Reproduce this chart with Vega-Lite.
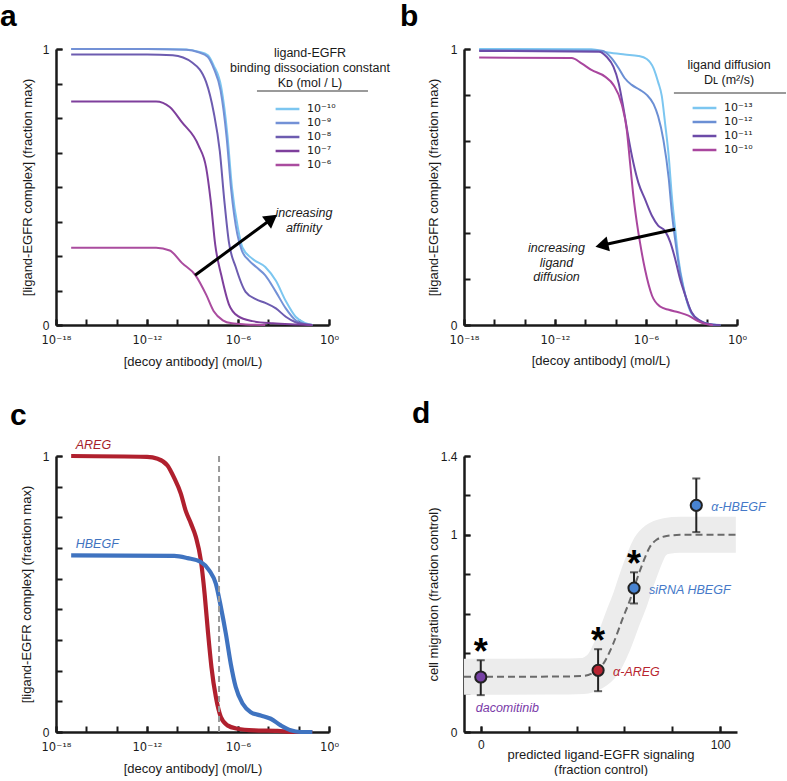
{
  "$schema": "https://vega.github.io/schema/vega-lite/v6.json",
  "padding": {"left": 0, "top": 2, "right": 0, "bottom": 0},
  "background": "white",
  "config": {
    "font": "Liberation Sans",
    "view": {"stroke": null},
    "axis": {"domainColor": "#1a1a1a", "domainWidth": 2.5, "tickColor": "#1a1a1a", "tickWidth": 2, "tickSize": -6, "labelPadding": 13, "labelFontSize": 12, "labelColor": "#1a1a1a", "titleFontSize": 13, "titleFontWeight": "normal", "titleColor": "#1a1a1a", "grid": false, "labelFlush": false, "labelOverlap": false, "labelBound": false},
    "title": {"fontSize": 30, "fontWeight": "bold", "anchor": "start", "frame": "group", "color": "#000", "font": "Liberation Sans"},
    "legend": {"padding": 0, "titleFontSize": 12.5, "titleFontWeight": "normal", "titleColor": "#1a1a1a", "titleAlign": "center", "titleAnchor": "middle", "titleLineHeight": 15, "titlePadding": 13, "titleLimit": 300, "symbolType": "M-1.7,0L1.7,0", "symbolSize": 196, "symbolStrokeWidth": 2.5, "labelOffset": 11, "labelFont": "DejaVu Sans", "labelFontSize": 11, "labelColor": "#1a1a1a", "labelExpr": "datum.label + '     '", "rowPadding": 0}
  },
  "columns": 2,
  "bounds": "flush",
  "spacing": {"row": 131, "column": 135},
  "resolve": {"scale": {"color": "independent", "fill": "independent", "x": "independent", "y": "independent"}, "legend": {"color": "independent", "fill": "independent"}},
  "datasets": {
    "curvesA": [
      {"kd": "10⁻¹⁰", "log_conc": -17, "complex": 1.0}, {"kd": "10⁻¹⁰", "log_conc": -12, "complex": 1.0}, {"kd": "10⁻¹⁰", "log_conc": -9.4, "complex": 0.998}, {"kd": "10⁻¹⁰", "log_conc": -8.6, "complex": 0.99}, {"kd": "10⁻¹⁰", "log_conc": -8, "complex": 0.978}, {"kd": "10⁻¹⁰", "log_conc": -7.6, "complex": 0.94}, {"kd": "10⁻¹⁰", "log_conc": -7.1, "complex": 0.86}, {"kd": "10⁻¹⁰", "log_conc": -6.7, "complex": 0.69}, {"kd": "10⁻¹⁰", "log_conc": -6.4, "complex": 0.5}, {"kd": "10⁻¹⁰", "log_conc": -6.0, "complex": 0.35}, {"kd": "10⁻¹⁰", "log_conc": -5.7, "complex": 0.28}, {"kd": "10⁻¹⁰", "log_conc": -5.05, "complex": 0.24}, {"kd": "10⁻¹⁰", "log_conc": -4.2, "complex": 0.21}, {"kd": "10⁻¹⁰", "log_conc": -3.5, "complex": 0.16}, {"kd": "10⁻¹⁰", "log_conc": -2.85, "complex": 0.087}, {"kd": "10⁻¹⁰", "log_conc": -2.2, "complex": 0.03}, {"kd": "10⁻¹⁰", "log_conc": -1.6, "complex": 0.008}, {"kd": "10⁻¹⁰", "log_conc": -1.1, "complex": 0.0},
      {"kd": "10⁻⁹", "log_conc": -17, "complex": 1.0}, {"kd": "10⁻⁹", "log_conc": -12, "complex": 1.0}, {"kd": "10⁻⁹", "log_conc": -9.4, "complex": 0.997}, {"kd": "10⁻⁹", "log_conc": -8.6, "complex": 0.988}, {"kd": "10⁻⁹", "log_conc": -8, "complex": 0.972}, {"kd": "10⁻⁹", "log_conc": -7.6, "complex": 0.93}, {"kd": "10⁻⁹", "log_conc": -7.15, "complex": 0.85}, {"kd": "10⁻⁹", "log_conc": -6.75, "complex": 0.68}, {"kd": "10⁻⁹", "log_conc": -6.45, "complex": 0.49}, {"kd": "10⁻⁹", "log_conc": -6.05, "complex": 0.33}, {"kd": "10⁻⁹", "log_conc": -5.75, "complex": 0.27}, {"kd": "10⁻⁹", "log_conc": -5.3, "complex": 0.235}, {"kd": "10⁻⁹", "log_conc": -4.8, "complex": 0.21}, {"kd": "10⁻⁹", "log_conc": -4.2, "complex": 0.18}, {"kd": "10⁻⁹", "log_conc": -3.5, "complex": 0.12}, {"kd": "10⁻⁹", "log_conc": -2.85, "complex": 0.06}, {"kd": "10⁻⁹", "log_conc": -2.2, "complex": 0.017}, {"kd": "10⁻⁹", "log_conc": -1.6, "complex": 0.004}, {"kd": "10⁻⁹", "log_conc": -1.1, "complex": 0.0},
      {"kd": "10⁻⁸", "log_conc": -17, "complex": 0.98}, {"kd": "10⁻⁸", "log_conc": -12, "complex": 0.98}, {"kd": "10⁻⁸", "log_conc": -10.3, "complex": 0.977}, {"kd": "10⁻⁸", "log_conc": -9, "complex": 0.95}, {"kd": "10⁻⁸", "log_conc": -8.1, "complex": 0.88}, {"kd": "10⁻⁸", "log_conc": -7.6, "complex": 0.77}, {"kd": "10⁻⁸", "log_conc": -7.2, "complex": 0.63}, {"kd": "10⁻⁸", "log_conc": -6.9, "complex": 0.45}, {"kd": "10⁻⁸", "log_conc": -6.6, "complex": 0.3}, {"kd": "10⁻⁸", "log_conc": -6.15, "complex": 0.21}, {"kd": "10⁻⁸", "log_conc": -5.5, "complex": 0.12}, {"kd": "10⁻⁸", "log_conc": -4.8, "complex": 0.093}, {"kd": "10⁻⁸", "log_conc": -4.2, "complex": 0.08}, {"kd": "10⁻⁸", "log_conc": -3.5, "complex": 0.06}, {"kd": "10⁻⁸", "log_conc": -2.85, "complex": 0.03}, {"kd": "10⁻⁸", "log_conc": -2.2, "complex": 0.01}, {"kd": "10⁻⁸", "log_conc": -1.5, "complex": 0.002}, {"kd": "10⁻⁸", "log_conc": -1.1, "complex": 0.0},
      {"kd": "10⁻⁷", "log_conc": -17, "complex": 0.81}, {"kd": "10⁻⁷", "log_conc": -11.4, "complex": 0.81}, {"kd": "10⁻⁷", "log_conc": -10.5, "complex": 0.79}, {"kd": "10⁻⁷", "log_conc": -9.7, "complex": 0.735}, {"kd": "10⁻⁷", "log_conc": -8.6, "complex": 0.65}, {"kd": "10⁻⁷", "log_conc": -8.1, "complex": 0.57}, {"kd": "10⁻⁷", "log_conc": -7.8, "complex": 0.45}, {"kd": "10⁻⁷", "log_conc": -7.5, "complex": 0.29}, {"kd": "10⁻⁷", "log_conc": -7.1, "complex": 0.18}, {"kd": "10⁻⁷", "log_conc": -6.6, "complex": 0.075}, {"kd": "10⁻⁷", "log_conc": -6.0, "complex": 0.032}, {"kd": "10⁻⁷", "log_conc": -5.05, "complex": 0.014}, {"kd": "10⁻⁷", "log_conc": -3.7, "complex": 0.006}, {"kd": "10⁻⁷", "log_conc": -2.0, "complex": 0.002}, {"kd": "10⁻⁷", "log_conc": -1.1, "complex": 0.0},
      {"kd": "10⁻⁶", "log_conc": -17, "complex": 0.28}, {"kd": "10⁻⁶", "log_conc": -11.4, "complex": 0.28}, {"kd": "10⁻⁶", "log_conc": -10.5, "complex": 0.27}, {"kd": "10⁻⁶", "log_conc": -9.7, "complex": 0.225}, {"kd": "10⁻⁶", "log_conc": -8.8, "complex": 0.18}, {"kd": "10⁻⁶", "log_conc": -8.1, "complex": 0.11}, {"kd": "10⁻⁶", "log_conc": -7.6, "complex": 0.05}, {"kd": "10⁻⁶", "log_conc": -7.0, "complex": 0.017}, {"kd": "10⁻⁶", "log_conc": -6.4, "complex": 0.006}, {"kd": "10⁻⁶", "log_conc": -5.5, "complex": 0.002}, {"kd": "10⁻⁶", "log_conc": -4.2, "complex": 0.0}
    ],
    "curvesB": [
      {"dl": "10⁻¹³", "log_conc": -17, "complex": 1.0}, {"dl": "10⁻¹³", "log_conc": -9.6, "complex": 0.999}, {"dl": "10⁻¹³", "log_conc": -8.5, "complex": 0.987}, {"dl": "10⁻¹³", "log_conc": -7.4, "complex": 0.98}, {"dl": "10⁻¹³", "log_conc": -6.5, "complex": 0.975}, {"dl": "10⁻¹³", "log_conc": -5.95, "complex": 0.964}, {"dl": "10⁻¹³", "log_conc": -5.5, "complex": 0.93}, {"dl": "10⁻¹³", "log_conc": -5.2, "complex": 0.88}, {"dl": "10⁻¹³", "log_conc": -4.96, "complex": 0.83}, {"dl": "10⁻¹³", "log_conc": -4.74, "complex": 0.73}, {"dl": "10⁻¹³", "log_conc": -4.5, "complex": 0.61}, {"dl": "10⁻¹³", "log_conc": -4.3, "complex": 0.47}, {"dl": "10⁻¹³", "log_conc": -4.08, "complex": 0.35}, {"dl": "10⁻¹³", "log_conc": -3.86, "complex": 0.24}, {"dl": "10⁻¹³", "log_conc": -3.5, "complex": 0.13}, {"dl": "10⁻¹³", "log_conc": -3.1, "complex": 0.052}, {"dl": "10⁻¹³", "log_conc": -2.53, "complex": 0.016}, {"dl": "10⁻¹³", "log_conc": -1.9, "complex": 0.004}, {"dl": "10⁻¹³", "log_conc": -1.1, "complex": 0.0},
      {"dl": "10⁻¹²", "log_conc": -17, "complex": 0.996}, {"dl": "10⁻¹²", "log_conc": -8.9, "complex": 0.994}, {"dl": "10⁻¹²", "log_conc": -8.26, "complex": 0.966}, {"dl": "10⁻¹²", "log_conc": -7.8, "complex": 0.93}, {"dl": "10⁻¹²", "log_conc": -7.4, "complex": 0.894}, {"dl": "10⁻¹²", "log_conc": -6.94, "complex": 0.87}, {"dl": "10⁻¹²", "log_conc": -6.4, "complex": 0.852}, {"dl": "10⁻¹²", "log_conc": -5.95, "complex": 0.834}, {"dl": "10⁻¹²", "log_conc": -5.5, "complex": 0.8}, {"dl": "10⁻¹²", "log_conc": -5.2, "complex": 0.756}, {"dl": "10⁻¹²", "log_conc": -4.85, "complex": 0.67}, {"dl": "10⁻¹²", "log_conc": -4.5, "complex": 0.53}, {"dl": "10⁻¹²", "log_conc": -4.3, "complex": 0.41}, {"dl": "10⁻¹²", "log_conc": -4.08, "complex": 0.31}, {"dl": "10⁻¹²", "log_conc": -3.75, "complex": 0.19}, {"dl": "10⁻¹²", "log_conc": -3.4, "complex": 0.106}, {"dl": "10⁻¹²", "log_conc": -3.0, "complex": 0.046}, {"dl": "10⁻¹²", "log_conc": -2.45, "complex": 0.016}, {"dl": "10⁻¹²", "log_conc": -1.7, "complex": 0.002}, {"dl": "10⁻¹²", "log_conc": -1.1, "complex": 0.0},
      {"dl": "10⁻¹¹", "log_conc": -17, "complex": 0.993}, {"dl": "10⁻¹¹", "log_conc": -9.1, "complex": 0.99}, {"dl": "10⁻¹¹", "log_conc": -8.6, "complex": 0.972}, {"dl": "10⁻¹¹", "log_conc": -8.15, "complex": 0.936}, {"dl": "10⁻¹¹", "log_conc": -7.8, "complex": 0.876}, {"dl": "10⁻¹¹", "log_conc": -7.5, "complex": 0.79}, {"dl": "10⁻¹¹", "log_conc": -7.16, "complex": 0.68}, {"dl": "10⁻¹¹", "log_conc": -6.83, "complex": 0.587}, {"dl": "10⁻¹¹", "log_conc": -6.5, "complex": 0.515}, {"dl": "10⁻¹¹", "log_conc": -6.06, "complex": 0.455}, {"dl": "10⁻¹¹", "log_conc": -5.6, "complex": 0.395}, {"dl": "10⁻¹¹", "log_conc": -5.2, "complex": 0.36}, {"dl": "10⁻¹¹", "log_conc": -4.74, "complex": 0.34}, {"dl": "10⁻¹¹", "log_conc": -4.4, "complex": 0.3}, {"dl": "10⁻¹¹", "log_conc": -4.08, "complex": 0.24}, {"dl": "10⁻¹¹", "log_conc": -3.75, "complex": 0.166}, {"dl": "10⁻¹¹", "log_conc": -3.4, "complex": 0.106}, {"dl": "10⁻¹¹", "log_conc": -3.0, "complex": 0.046}, {"dl": "10⁻¹¹", "log_conc": -2.45, "complex": 0.016}, {"dl": "10⁻¹¹", "log_conc": -1.9, "complex": 0.004}, {"dl": "10⁻¹¹", "log_conc": -1.1, "complex": 0.0},
      {"dl": "10⁻¹⁰", "log_conc": -17, "complex": 0.969}, {"dl": "10⁻¹⁰", "log_conc": -10.9, "complex": 0.967}, {"dl": "10⁻¹⁰", "log_conc": -10.25, "complex": 0.948}, {"dl": "10⁻¹⁰", "log_conc": -9.6, "complex": 0.924}, {"dl": "10⁻¹⁰", "log_conc": -8.7, "complex": 0.9}, {"dl": "10⁻¹⁰", "log_conc": -8.15, "complex": 0.87}, {"dl": "10⁻¹⁰", "log_conc": -7.6, "complex": 0.8}, {"dl": "10⁻¹⁰", "log_conc": -7.27, "complex": 0.708}, {"dl": "10⁻¹⁰", "log_conc": -7.05, "complex": 0.587}, {"dl": "10⁻¹⁰", "log_conc": -6.83, "complex": 0.467}, {"dl": "10⁻¹⁰", "log_conc": -6.6, "complex": 0.37}, {"dl": "10⁻¹⁰", "log_conc": -6.4, "complex": 0.3}, {"dl": "10⁻¹⁰", "log_conc": -6.06, "complex": 0.2}, {"dl": "10⁻¹⁰", "log_conc": -5.6, "complex": 0.106}, {"dl": "10⁻¹⁰", "log_conc": -5.07, "complex": 0.067}, {"dl": "10⁻¹⁰", "log_conc": -4.5, "complex": 0.055}, {"dl": "10⁻¹⁰", "log_conc": -3.86, "complex": 0.046}, {"dl": "10⁻¹⁰", "log_conc": -3.2, "complex": 0.034}, {"dl": "10⁻¹⁰", "log_conc": -2.64, "complex": 0.016}, {"dl": "10⁻¹⁰", "log_conc": -2.1, "complex": 0.004}, {"dl": "10⁻¹⁰", "log_conc": -1.6, "complex": 0.0}
    ],
    "curvesC": [
      {"ligand": "AREG", "log_conc": -17, "complex": 1.0}, {"ligand": "AREG", "log_conc": -12, "complex": 0.997}, {"ligand": "AREG", "log_conc": -11.3, "complex": 0.99}, {"ligand": "AREG", "log_conc": -10.65, "complex": 0.966}, {"ligand": "AREG", "log_conc": -10.2, "complex": 0.92}, {"ligand": "AREG", "log_conc": -9.77, "complex": 0.864}, {"ligand": "AREG", "log_conc": -9.44, "complex": 0.8}, {"ligand": "AREG", "log_conc": -9.1, "complex": 0.755}, {"ligand": "AREG", "log_conc": -8.78, "complex": 0.707}, {"ligand": "AREG", "log_conc": -8.45, "complex": 0.622}, {"ligand": "AREG", "log_conc": -8.2, "complex": 0.5}, {"ligand": "AREG", "log_conc": -7.97, "complex": 0.356}, {"ligand": "AREG", "log_conc": -7.75, "complex": 0.235}, {"ligand": "AREG", "log_conc": -7.46, "complex": 0.127}, {"ligand": "AREG", "log_conc": -7.13, "complex": 0.054}, {"ligand": "AREG", "log_conc": -6.7, "complex": 0.024}, {"ligand": "AREG", "log_conc": -6.04, "complex": 0.012}, {"ligand": "AREG", "log_conc": -4.94, "complex": 0.006}, {"ligand": "AREG", "log_conc": -3.4, "complex": 0.004}, {"ligand": "AREG", "log_conc": -2.3, "complex": 0.0}, {"ligand": "AREG", "log_conc": -1.1, "complex": 0.0},
      {"ligand": "HBEGF", "log_conc": -17, "complex": 0.64}, {"ligand": "HBEGF", "log_conc": -10.2, "complex": 0.638}, {"ligand": "HBEGF", "log_conc": -9.33, "complex": 0.63}, {"ligand": "HBEGF", "log_conc": -8.45, "complex": 0.616}, {"ligand": "HBEGF", "log_conc": -7.9, "complex": 0.586}, {"ligand": "HBEGF", "log_conc": -7.46, "complex": 0.537}, {"ligand": "HBEGF", "log_conc": -7.13, "complex": 0.453}, {"ligand": "HBEGF", "log_conc": -6.8, "complex": 0.356}, {"ligand": "HBEGF", "log_conc": -6.48, "complex": 0.248}, {"ligand": "HBEGF", "log_conc": -6.15, "complex": 0.163}, {"ligand": "HBEGF", "log_conc": -5.7, "complex": 0.103}, {"ligand": "HBEGF", "log_conc": -5.16, "complex": 0.072}, {"ligand": "HBEGF", "log_conc": -4.5, "complex": 0.06}, {"ligand": "HBEGF", "log_conc": -3.84, "complex": 0.048}, {"ligand": "HBEGF", "log_conc": -3.18, "complex": 0.024}, {"ligand": "HBEGF", "log_conc": -2.53, "complex": 0.006}, {"ligand": "HBEGF", "log_conc": -1.87, "complex": 0.0}, {"ligand": "HBEGF", "log_conc": -1.1, "complex": 0.0}
    ],
    "migration": [
      {"treatment": "dacomitinib", "signaling": 0, "migration": 0.279, "lo": 0.187, "hi": 0.364, "significant": true},
      {"treatment": "α-AREG", "signaling": 49, "migration": 0.313, "lo": 0.207, "hi": 0.42, "significant": true},
      {"treatment": "siRNA HBEGF", "signaling": 64, "migration": 0.73, "lo": 0.652, "hi": 0.81, "significant": true},
      {"treatment": "α-HBEGF", "signaling": 90, "migration": 1.15, "lo": 1.014, "hi": 1.286, "significant": false}
    ],
    "fitD": [
      {"signaling": -7, "migration": 0.28}, {"signaling": 30, "migration": 0.281}, {"signaling": 42.7, "migration": 0.284}, {"signaling": 46.9, "migration": 0.3}, {"signaling": 51, "migration": 0.343}, {"signaling": 55.2, "migration": 0.445}, {"signaling": 59.4, "migration": 0.58}, {"signaling": 62.2, "migration": 0.666}, {"signaling": 65, "migration": 0.768}, {"signaling": 67.8, "migration": 0.861}, {"signaling": 70.6, "migration": 0.938}, {"signaling": 73.4, "migration": 0.975}, {"signaling": 77.6, "migration": 0.994}, {"signaling": 83.2, "migration": 1.0}, {"signaling": 106.5, "migration": 1.0}
    ]
  },
  "concat": [
    {
      "width": 273, "height": 276,
      "title": {"text": "a", "dx": -56, "offset": 11},
      "resolve": {"axis": {"x": "independent", "y": "independent"}},
      "layer": [
        {
          "data": {"name": "curvesA"},
          "mark": {"type": "line", "strokeWidth": 2, "interpolate": "monotone"},
          "encoding": {
            "x": {"field": "log_conc", "type": "quantitative", "title": "[decoy antibody] (mol/L)", "scale": {"domain": [-18, 0], "nice": false, "zero": false},
                  "axis": {"orient": "bottom", "values": [-18, -12, -6, 0], "labelExpr": "datum.value == -18 ? '10⁻¹⁸' : datum.value == -12 ? '10⁻¹²' : datum.value == -6 ? '10⁻⁶' : '10⁰'", "labelFont": "DejaVu Sans", "labelFontSize": 11.5, "labelPadding": 15, "titlePadding": 10, "labelDx": -2}},
            "y": {"field": "complex", "type": "quantitative", "title": "[ligand-EGFR complex] (fraction max)", "scale": {"domain": [0, 1], "nice": false},
                  "axis": {"orient": "left", "values": [0, 1], "format": "d", "titlePadding": 8}},
            "color": {"field": "kd", "type": "nominal",
                      "scale": {"domain": ["10⁻¹⁰", "10⁻⁹", "10⁻⁸", "10⁻⁷", "10⁻⁶"], "range": ["#7cc6f0", "#7391d6", "#6d5cb0", "#7e3f9c", "#aa4c9f"]},
                      "legend": {"orient": "none", "legendX": 174, "legendY": -2, "titlePadding": 11, "symbolOffset": -5, "title": ["ligand-EGFR", "binding dissociation constant", "Kᴅ (mol / L)"]}}
          }
        },
        {
          "data": {"values": [{}]},
          "mark": {"type": "rule", "color": "#9a9a9a", "strokeWidth": 2},
          "encoding": {
            "x": {"datum": -4.75, "type": "quantitative", "axis": {"orient": "bottom", "values": [-18, -16, -14, -12, -10, -8, -6, -4, -2, 0], "labels": false, "domain": false, "title": null}},
            "x2": {"datum": 2.57},
            "y": {"datum": 0.848, "type": "quantitative", "axis": {"orient": "left", "values": [0, 0.125, 0.25, 0.375, 0.5, 0.625, 0.75, 0.875, 1], "labels": false, "domain": false, "title": null}}
          }
        },
        {
          "data": {"values": [{}]},
          "mark": {"type": "rule", "color": "#000", "strokeWidth": 3},
          "encoding": {"x": {"datum": -8.83, "axis": null}, "y": {"datum": 0.18, "axis": null}, "x2": {"datum": -3.77}, "y2": {"datum": 0.385}}
        },
        {
          "data": {"values": [{}]},
          "mark": {"type": "point", "shape": "triangle-up", "filled": true, "color": "#000", "opacity": 1, "size": 230, "angle": 53.6},
          "encoding": {"x": {"datum": -3.77, "axis": null}, "y": {"datum": 0.385, "axis": null}}
        },
        {
          "data": {"values": [{}]},
          "mark": {"type": "text", "fontStyle": "italic", "fontSize": 12.5, "align": "center", "baseline": "middle", "lineHeight": 15, "color": "#1a1a1a"},
          "encoding": {"x": {"datum": -1.65, "axis": null}, "y": {"datum": 0.406, "axis": null}, "text": {"value": ["increasing", "affinity"]}}
        }
      ]
    },
    {
      "width": 273, "height": 276,
      "title": {"text": "b", "dx": -64, "offset": 11},
      "resolve": {"axis": {"x": "independent", "y": "independent"}},
      "layer": [
        {
          "data": {"name": "curvesB"},
          "mark": {"type": "line", "strokeWidth": 2, "interpolate": "monotone"},
          "encoding": {
            "x": {"field": "log_conc", "type": "quantitative", "title": "[decoy antibody] (mol/L)", "scale": {"domain": [-18, 0], "nice": false, "zero": false},
                  "axis": {"orient": "bottom", "values": [-18, -12, -6, 0], "labelExpr": "datum.value == -18 ? '10⁻¹⁸' : datum.value == -12 ? '10⁻¹²' : datum.value == -6 ? '10⁻⁶' : '10⁰'", "labelFont": "DejaVu Sans", "labelFontSize": 11.5, "labelPadding": 15, "titlePadding": 9, "labelDx": -2}},
            "y": {"field": "complex", "type": "quantitative", "title": "[ligand-EGFR complex] (fraction max)", "scale": {"domain": [0, 1], "nice": false},
                  "axis": {"orient": "left", "values": [0, 1], "format": "d", "titlePadding": 10}},
            "color": {"field": "dl", "type": "nominal",
                      "scale": {"domain": ["10⁻¹³", "10⁻¹²", "10⁻¹¹", "10⁻¹⁰"], "range": ["#7cc6f0", "#6b8fd4", "#6c4ba8", "#a9469e"]},
                      "legend": {"orient": "none", "legendX": 223, "legendY": 10, "symbolOffset": -10, "title": ["ligand diffusion", "Dʟ (m²/s)"]}}
          }
        },
        {
          "data": {"values": [{}]},
          "mark": {"type": "rule", "color": "#9a9a9a", "strokeWidth": 2},
          "encoding": {
            "x": {"datum": -4.16, "type": "quantitative", "axis": {"orient": "bottom", "values": [-18, -16, -14, -12, -10, -8, -6, -4, -2, 0], "labels": false, "domain": false, "title": null}},
            "x2": {"datum": 3.23},
            "y": {"datum": 0.841, "type": "quantitative", "axis": {"orient": "left", "values": [0, 0.16667, 0.33333, 0.5, 0.66667, 0.83333, 1], "labels": false, "domain": false, "title": null}}
          }
        },
        {
          "data": {"values": [{}]},
          "mark": {"type": "rule", "color": "#000", "strokeWidth": 3},
          "encoding": {"x": {"datum": -4.08, "axis": null}, "y": {"datum": 0.347, "axis": null}, "x2": {"datum": -8.91}, "y2": {"datum": 0.289}}
        },
        {
          "data": {"values": [{}]},
          "mark": {"type": "point", "shape": "triangle-up", "filled": true, "color": "#000", "opacity": 1, "size": 230, "angle": 257.7},
          "encoding": {"x": {"datum": -8.91, "axis": null}, "y": {"datum": 0.289, "axis": null}}
        },
        {
          "data": {"values": [{}]},
          "mark": {"type": "text", "fontStyle": "italic", "fontSize": 12.5, "align": "center", "baseline": "middle", "lineHeight": 14.6, "color": "#1a1a1a"},
          "encoding": {"x": {"datum": -11.9, "axis": null}, "y": {"datum": 0.278, "axis": null}, "text": {"value": ["increasing", "ligand", "diffusion"]}}
        }
      ]
    },
    {
      "width": 273, "height": 276,
      "title": {"text": "c", "dx": -46, "offset": 8},
      "resolve": {"axis": {"x": "independent", "y": "independent"}},
      "layer": [
        {
          "data": {"name": "curvesC"},
          "mark": {"type": "line", "strokeWidth": 4.2, "interpolate": "monotone"},
          "encoding": {
            "x": {"field": "log_conc", "type": "quantitative", "title": "[decoy antibody] (mol/L)", "scale": {"domain": [-18, 0], "nice": false, "zero": false},
                  "axis": {"orient": "bottom", "values": [-18, -12, -6, 0], "labelExpr": "datum.value == -18 ? '10⁻¹⁸' : datum.value == -12 ? '10⁻¹²' : datum.value == -6 ? '10⁻⁶' : '10⁰'", "labelFont": "DejaVu Sans", "labelFontSize": 11.5, "labelPadding": 15, "titlePadding": 10, "labelDx": -2}},
            "y": {"field": "complex", "type": "quantitative", "title": "[ligand-EGFR complex] (fraction max)", "scale": {"domain": [0, 1], "nice": false},
                  "axis": {"orient": "left", "values": [0, 1], "format": "d", "titlePadding": 9}},
            "color": {"field": "ligand", "type": "nominal", "scale": {"domain": ["AREG", "HBEGF"], "range": ["#b0202e", "#3f73c0"]}, "legend": null}
          }
        },
        {
          "data": {"values": [{}]},
          "mark": {"type": "rule", "color": "#999999", "strokeWidth": 2, "strokeDash": [6, 4]},
          "encoding": {
            "x": {"datum": -7.25, "type": "quantitative", "axis": {"orient": "bottom", "values": [-18, -16, -14, -12, -10, -8, -6, -4, -2, 0], "labels": false, "domain": false, "title": null}},
            "y": {"datum": 1, "type": "quantitative", "axis": {"orient": "left", "values": [0, 0.11111, 0.22222, 0.33333, 0.44444, 0.55556, 0.66667, 0.77778, 0.88889, 1], "labels": false, "domain": false, "title": null}},
            "y2": {"datum": 0}
          }
        },
        {
          "data": {"values": [{}]},
          "mark": {"type": "text", "fontStyle": "italic", "fontSize": 12.5, "align": "left", "baseline": "middle", "color": "#a51f2b"},
          "encoding": {"x": {"datum": -16.7, "axis": null}, "y": {"datum": 1.04, "axis": null}, "text": {"value": "AREG"}}
        },
        {
          "data": {"values": [{}]},
          "mark": {"type": "text", "fontStyle": "italic", "fontSize": 12.5, "align": "left", "baseline": "middle", "color": "#3f73c0"},
          "encoding": {"x": {"datum": -16.7, "axis": null}, "y": {"datum": 0.68, "axis": null}, "text": {"value": "HBEGF"}}
        }
      ]
    },
    {
      "width": 273, "height": 276,
      "title": {"text": "d", "dx": -52, "offset": 21},
      "resolve": {"axis": {"x": "independent", "y": "independent"}},
      "layer": [
        {
          "data": {"name": "fitD"},
          "mark": {"type": "line", "strokeWidth": 36, "color": "#ececec", "interpolate": "monotone", "strokeCap": "butt"},
          "encoding": {
            "x": {"field": "signaling", "type": "quantitative", "title": ["predicted ligand-EGFR signaling", "(fraction control)"], "scale": {"domain": [-7, 107], "nice": false, "zero": false},
                  "axis": {"orient": "bottom", "values": [0, 100], "format": "d", "titlePadding": -2, "titleLineHeight": 15}},
            "y": {"field": "migration", "type": "quantitative", "title": "cell migration (fraction control)", "scale": {"domain": [0, 1.4], "nice": false},
                  "axis": {"orient": "left", "values": [0, 1, 1.4], "labelExpr": "datum.value == 1.4 ? '1.4' : datum.value == 1 ? '1' : '0'", "titlePadding": 0}}
          }
        },
        {
          "data": {"name": "fitD"},
          "mark": {"type": "line", "strokeWidth": 2, "color": "#6a6a6a", "interpolate": "monotone", "strokeDash": [7, 4]},
          "encoding": {
            "x": {"field": "signaling", "type": "quantitative", "axis": {"orient": "bottom", "values": [0, 20, 40, 60, 80, 100], "labels": false, "domain": false, "title": null}},
            "y": {"field": "migration", "type": "quantitative", "axis": {"orient": "left", "values": [0, 0.2, 0.4, 0.6, 0.8, 1, 1.2, 1.4], "labels": false, "domain": false, "title": null}}
          }
        },
        {
          "data": {"name": "migration"},
          "mark": {"type": "rule", "color": "#222", "strokeWidth": 2},
          "encoding": {"x": {"field": "signaling", "type": "quantitative", "axis": null}, "y": {"field": "lo", "type": "quantitative", "axis": null}, "y2": {"field": "hi"}}
        },
        {
          "data": {"name": "migration"},
          "mark": {"type": "tick", "orient": "horizontal", "color": "#222", "size": 8, "thickness": 2},
          "encoding": {"x": {"field": "signaling", "type": "quantitative", "axis": null}, "y": {"field": "lo", "type": "quantitative", "axis": null}}
        },
        {
          "data": {"name": "migration"},
          "mark": {"type": "tick", "orient": "horizontal", "color": "#222", "size": 8, "thickness": 2},
          "encoding": {"x": {"field": "signaling", "type": "quantitative", "axis": null}, "y": {"field": "hi", "type": "quantitative", "axis": null}}
        },
        {
          "data": {"name": "migration"},
          "mark": {"type": "circle", "size": 125, "stroke": "#222", "strokeWidth": 2, "opacity": 1},
          "encoding": {
            "x": {"field": "signaling", "type": "quantitative", "axis": null}, "y": {"field": "migration", "type": "quantitative", "axis": null},
            "fill": {"field": "treatment", "type": "nominal", "scale": {"domain": ["dacomitinib", "α-AREG", "siRNA HBEGF", "α-HBEGF"], "range": ["#7741a5", "#b82432", "#4883d1", "#4883d1"]}, "legend": null}
          }
        },
        {
          "data": {"name": "migration"},
          "transform": [{"filter": "datum.significant"}],
          "mark": {"type": "text", "text": "*", "fontSize": 36, "fontWeight": "bold", "align": "center", "baseline": "alphabetic", "dy": 4, "color": "#000"},
          "encoding": {"x": {"field": "signaling", "type": "quantitative", "axis": null}, "y": {"field": "hi", "type": "quantitative", "axis": null}}
        },
        {
          "data": {"name": "migration"},
          "transform": [{"filter": "datum.treatment != 'dacomitinib'"}],
          "mark": {"type": "text", "fontStyle": "italic", "fontSize": 12.5, "align": "left", "baseline": "middle", "dx": 15, "dy": 2},
          "encoding": {
            "x": {"field": "signaling", "type": "quantitative", "axis": null}, "y": {"field": "migration", "type": "quantitative", "axis": null},
            "text": {"field": "treatment"},
            "color": {"field": "treatment", "type": "nominal", "scale": {"domain": ["dacomitinib", "α-AREG", "siRNA HBEGF", "α-HBEGF"], "range": ["#7a3aa8", "#b8262f", "#4579c8", "#4579c8"]}, "legend": null}
          }
        },
        {
          "data": {"name": "migration"},
          "transform": [{"filter": "datum.treatment == 'dacomitinib'"}],
          "mark": {"type": "text", "fontStyle": "italic", "fontSize": 12.5, "align": "left", "baseline": "middle", "dx": -5, "dy": 31},
          "encoding": {
            "x": {"field": "signaling", "type": "quantitative", "axis": null}, "y": {"field": "migration", "type": "quantitative", "axis": null},
            "text": {"field": "treatment"},
            "color": {"field": "treatment", "type": "nominal", "scale": {"domain": ["dacomitinib", "α-AREG", "siRNA HBEGF", "α-HBEGF"], "range": ["#7a3aa8", "#b8262f", "#4579c8", "#4579c8"]}, "legend": null}
          }
        }
      ]
    }
  ]
}
